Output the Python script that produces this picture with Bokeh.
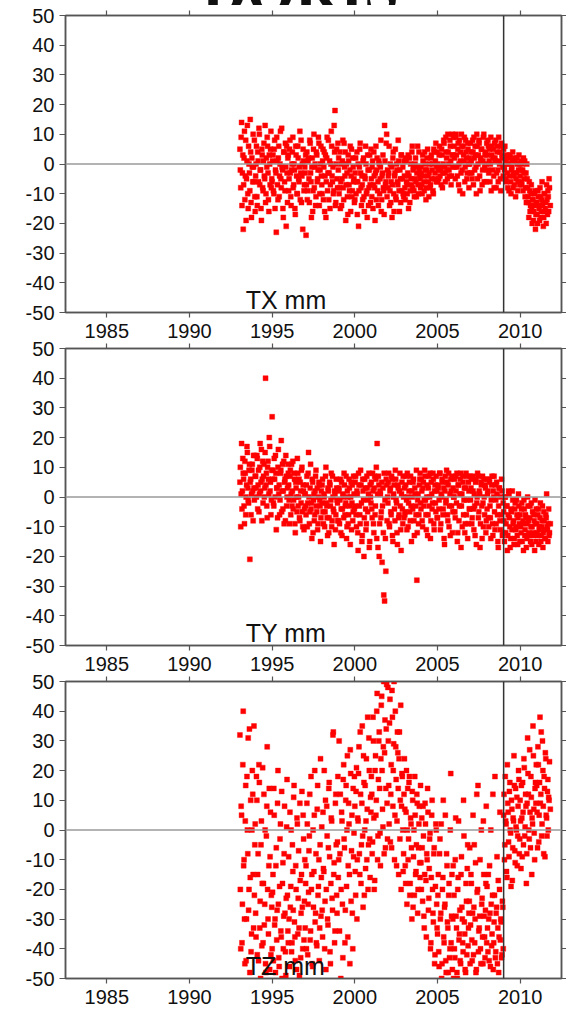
from bokeh.plotting import figure
from bokeh.layouts import column
from bokeh.models import Span, Label, Range1d, FixedTicker, LinearAxis, ColumnDataSource, Div
from bokeh.embed import file_html
from bokeh.resources import INLINE

# ---------------- data (decimal-year epochs and translations in mm) ----------------
# first set of epochs
epochs = [
    1993.05, 1993.10, 1993.15, 1993.20, 1993.25, 1993.30, 1993.35, 1993.40, 1993.45, 1993.50, 1993.55, 1993.60, 1993.65, 1993.70, 1993.75, 1993.80, 1993.85, 1993.90, 1993.95,
    1994.00, 1994.05, 1994.10, 1994.15, 1994.20, 1994.25, 1994.30, 1994.35, 1994.40, 1994.45, 1994.50, 1994.55, 1994.60, 1994.65, 1994.70, 1994.75, 1994.80, 1994.85, 1994.90, 1994.95,
    1995.00, 1995.05, 1995.10, 1995.15, 1995.20, 1995.25, 1995.30, 1995.35, 1995.40, 1995.45, 1995.50, 1995.55, 1995.60, 1995.65, 1995.70, 1995.75, 1995.80, 1995.85, 1995.90, 1995.95,
    1996.00, 1996.05, 1996.10, 1996.15, 1996.20, 1996.25, 1996.30, 1996.35, 1996.40, 1996.45, 1996.50, 1996.55, 1996.60, 1996.65, 1996.70, 1996.75, 1996.80, 1996.85, 1996.90, 1996.95,
    1997.00, 1997.05, 1997.10, 1997.15, 1997.20, 1997.25, 1997.30, 1997.35, 1997.40, 1997.45, 1997.50, 1997.55, 1997.60, 1997.65, 1997.70, 1997.75, 1997.80, 1997.85, 1997.90, 1997.95,
    1998.00, 1998.05, 1998.10, 1998.15, 1998.20, 1998.25, 1998.30, 1998.35, 1998.40, 1998.45, 1998.50, 1998.55, 1998.60, 1998.65, 1998.70, 1998.75, 1998.80, 1998.85, 1998.90, 1998.95,
    1999.00, 1999.05, 1999.10, 1999.15, 1999.20, 1999.25, 1999.30, 1999.35, 1999.40, 1999.45, 1999.50, 1999.55, 1999.60, 1999.65, 1999.70, 1999.75, 1999.80, 1999.85, 1999.90, 1999.95,
    2000.00, 2000.05, 2000.10, 2000.15, 2000.20, 2000.25, 2000.30, 2000.35, 2000.40, 2000.45, 2000.50, 2000.55, 2000.60, 2000.65, 2000.70, 2000.75, 2000.80, 2000.85, 2000.90, 2000.95,
    2001.00, 2001.05, 2001.10, 2001.15, 2001.20, 2001.25, 2001.30, 2001.35, 2001.40, 2001.45, 2001.50, 2001.55, 2001.60, 2001.65, 2001.70, 2001.75, 2001.80, 2001.85, 2001.90, 2001.95,
    2002.00, 2002.05, 2002.10, 2002.15, 2002.20, 2002.25, 2002.30, 2002.35, 2002.40, 2002.45, 2002.50, 2002.55, 2002.60, 2002.65, 2002.70, 2002.75, 2002.80, 2002.85, 2002.90, 2002.95,
    2003.00, 2003.05, 2003.10, 2003.15, 2003.20, 2003.25, 2003.30, 2003.35, 2003.40, 2003.45, 2003.50, 2003.55, 2003.60, 2003.65, 2003.70, 2003.75, 2003.80, 2003.85, 2003.90, 2003.95,
    2004.00, 2004.05, 2004.10, 2004.15, 2004.20, 2004.25, 2004.30, 2004.35, 2004.40, 2004.45, 2004.50, 2004.55, 2004.60, 2004.65, 2004.70, 2004.75, 2004.80, 2004.85, 2004.90, 2004.95,
    2005.00, 2005.05, 2005.10, 2005.15, 2005.20, 2005.25, 2005.30, 2005.35, 2005.40, 2005.45, 2005.50, 2005.55, 2005.60, 2005.65, 2005.70, 2005.75, 2005.80, 2005.85, 2005.90, 2005.95,
    2006.00, 2006.05, 2006.10, 2006.15, 2006.20, 2006.25, 2006.30, 2006.35, 2006.40, 2006.45, 2006.50, 2006.55, 2006.60, 2006.65, 2006.70, 2006.75, 2006.80, 2006.85, 2006.90, 2006.95,
    2007.00, 2007.05, 2007.10, 2007.15, 2007.20, 2007.25, 2007.30, 2007.35, 2007.40, 2007.45, 2007.50, 2007.55, 2007.60, 2007.65, 2007.70, 2007.75, 2007.80, 2007.85, 2007.90, 2007.95,
    2008.00, 2008.05, 2008.10, 2008.15, 2008.20, 2008.25, 2008.30, 2008.35, 2008.40, 2008.45, 2008.50, 2008.55, 2008.60, 2008.65, 2008.70, 2008.75, 2008.80, 2008.85, 2008.90, 2008.95,
    2009.00, 2009.05, 2009.10, 2009.15, 2009.20, 2009.25, 2009.30, 2009.35, 2009.40, 2009.45, 2009.50, 2009.55, 2009.60, 2009.65, 2009.70, 2009.75, 2009.80, 2009.85, 2009.90, 2009.95,
    2010.00, 2010.05, 2010.10, 2010.15, 2010.20, 2010.25, 2010.30, 2010.35, 2010.40, 2010.45, 2010.50, 2010.55, 2010.60, 2010.65, 2010.70, 2010.75, 2010.80, 2010.85, 2010.90, 2010.95,
    2011.00, 2011.05, 2011.10, 2011.15, 2011.20, 2011.25, 2011.30, 2011.35, 2011.40, 2011.45, 2011.50, 2011.55, 2011.60, 2011.65, 2011.70, 2011.75,
]

# second (interleaved) set of epochs
epochs_b = [
    1993.075, 1993.125, 1993.175, 1993.225, 1993.275, 1993.325, 1993.375, 1993.425, 1993.475, 1993.525, 1993.575, 1993.625, 1993.675, 1993.725, 1993.775, 1993.825, 1993.875, 1993.925, 1993.975,
    1994.025, 1994.075, 1994.125, 1994.175, 1994.225, 1994.275, 1994.325, 1994.375, 1994.425, 1994.475, 1994.525, 1994.575, 1994.625, 1994.675, 1994.725, 1994.775, 1994.825, 1994.875, 1994.925, 1994.975,
    1995.025, 1995.075, 1995.125, 1995.175, 1995.225, 1995.275, 1995.325, 1995.375, 1995.425, 1995.475, 1995.525, 1995.575, 1995.625, 1995.675, 1995.725, 1995.775, 1995.825, 1995.875, 1995.925, 1995.975,
    1996.025, 1996.075, 1996.125, 1996.175, 1996.225, 1996.275, 1996.325, 1996.375, 1996.425, 1996.475, 1996.525, 1996.575, 1996.625, 1996.675, 1996.725, 1996.775, 1996.825, 1996.875, 1996.925, 1996.975,
    1997.025, 1997.075, 1997.125, 1997.175, 1997.225, 1997.275, 1997.325, 1997.375, 1997.425, 1997.475, 1997.525, 1997.575, 1997.625, 1997.675, 1997.725, 1997.775, 1997.825, 1997.875, 1997.925, 1997.975,
    1998.025, 1998.075, 1998.125, 1998.175, 1998.225, 1998.275, 1998.325, 1998.375, 1998.425, 1998.475, 1998.525, 1998.575, 1998.625, 1998.675, 1998.725, 1998.775, 1998.825, 1998.875, 1998.925, 1998.975,
    1999.025, 1999.075, 1999.125, 1999.175, 1999.225, 1999.275, 1999.325, 1999.375, 1999.425, 1999.475, 1999.525, 1999.575, 1999.625, 1999.675, 1999.725, 1999.775, 1999.825, 1999.875, 1999.925, 1999.975,
    2000.025, 2000.075, 2000.125, 2000.175, 2000.225, 2000.275, 2000.325, 2000.375, 2000.425, 2000.475, 2000.525, 2000.575, 2000.625, 2000.675, 2000.725, 2000.775, 2000.825, 2000.875, 2000.925, 2000.975,
    2001.025, 2001.075, 2001.125, 2001.175, 2001.225, 2001.275, 2001.325, 2001.375, 2001.425, 2001.475, 2001.525, 2001.575, 2001.625, 2001.675, 2001.725, 2001.775, 2001.825, 2001.875, 2001.925, 2001.975,
    2002.025, 2002.075, 2002.125, 2002.175, 2002.225, 2002.275, 2002.325, 2002.375, 2002.425, 2002.475, 2002.525, 2002.575, 2002.625, 2002.675, 2002.725, 2002.775, 2002.825, 2002.875, 2002.925, 2002.975,
    2003.025, 2003.075, 2003.125, 2003.175, 2003.225, 2003.275, 2003.325, 2003.375, 2003.425, 2003.475, 2003.525, 2003.575, 2003.625, 2003.675, 2003.725, 2003.775, 2003.825, 2003.875, 2003.925, 2003.975,
    2004.025, 2004.075, 2004.125, 2004.175, 2004.225, 2004.275, 2004.325, 2004.375, 2004.425, 2004.475, 2004.525, 2004.575, 2004.625, 2004.675, 2004.725, 2004.775, 2004.825, 2004.875, 2004.925, 2004.975,
    2005.025, 2005.075, 2005.125, 2005.175, 2005.225, 2005.275, 2005.325, 2005.375, 2005.425, 2005.475, 2005.525, 2005.575, 2005.625, 2005.675, 2005.725, 2005.775, 2005.825, 2005.875, 2005.925, 2005.975,
    2006.025, 2006.075, 2006.125, 2006.175, 2006.225, 2006.275, 2006.325, 2006.375, 2006.425, 2006.475, 2006.525, 2006.575, 2006.625, 2006.675, 2006.725, 2006.775, 2006.825, 2006.875, 2006.925, 2006.975,
    2007.025, 2007.075, 2007.125, 2007.175, 2007.225, 2007.275, 2007.325, 2007.375, 2007.425, 2007.475, 2007.525, 2007.575, 2007.625, 2007.675, 2007.725, 2007.775, 2007.825, 2007.875, 2007.925, 2007.975,
    2008.025, 2008.075, 2008.125, 2008.175, 2008.225, 2008.275, 2008.325, 2008.375, 2008.425, 2008.475, 2008.525, 2008.575, 2008.625, 2008.675, 2008.725, 2008.775, 2008.825, 2008.875, 2008.925, 2008.975,
    2009.025, 2009.075, 2009.125, 2009.175, 2009.225, 2009.275, 2009.325, 2009.375, 2009.425, 2009.475, 2009.525, 2009.575, 2009.625, 2009.675, 2009.725, 2009.775, 2009.825, 2009.875, 2009.925, 2009.975,
    2010.025, 2010.075, 2010.125, 2010.175, 2010.225, 2010.275, 2010.325, 2010.375, 2010.425, 2010.475, 2010.525, 2010.575, 2010.625, 2010.675, 2010.725, 2010.775, 2010.825, 2010.875, 2010.925, 2010.975,
    2011.025, 2011.075, 2011.125, 2011.175, 2011.225, 2011.275, 2011.325, 2011.375, 2011.425, 2011.475, 2011.525, 2011.575, 2011.625, 2011.675, 2011.725, 2011.775, 2011.825,
]

tx = [
    5, -8, 14, -3, -22, 2, -12, 8, -5, 13, -15, 0, -9, 4, -18, -1, 10, -6, -11,
    -4, 6, -14, 1, 12, -7, -2, -19, 3, -9, 7, -5, -13, 2, 9, -3, -16, 0, 5, -8,
    -6, 3, -10, 8, -2, -23, 1, -12, 6, -4, 11, -8, -1, -15, 4, -6, 7, -21, -3, 2,
    -9, 5, -3, -14, 0, 9, -7, -2, -17, 3, -10, 6, -5, -1, -12, 8, -4, -22, 1, -7,
    -3, -24, 4, -9, 2, -13, 7, -6, -1, -16, 5, -8, 0, -11, 3, -5, 9, -14, -2, 6,
    -7, 1, -12, 4, -4, -18, 2, -9, 8, -3, -15, 0, 6, -6, -10, 13, 18, -13, 5, -8,
    -2, -10, 4, -6, -14, 1, -8, 7, -4, -19, 0, -11, 3, -7, -2, -16, 5, -9, -1, -5,
    -12, 2, -6, -17, 0, -9, 5, -3, -14, -7, 1, -11, -4, 6, -10, -18, -2, -8, 3, -13,
    -5, -1, -15, 4, -8, -3, -12, 2, -6, 1, -10, -1, -16, -4, 3, -9, 13, -7, 7, -11,
    -8, -3, -14, 0, -6, -18, 2, -10, -4, 5, -12, -2, -7, 1, -16, -5, 3, -9, -1, -11,
    -4, -12, 1, -7, -3, -15, 2, -9, -5, 4, -8, -1, -11, 0, -6, -3, 6, -10, -2, -5,
    -1, -7, 3, -4, -9, 0, -12, -2, 5, -6, -3, -8, 2, -5, 0, -10, 4, -3, 7, -1,
    -6, -2, 3, -4, -1, 5, -8, 0, 7, -3, 9, 2, -5, 4, -2, 8, 1, -4, 10, 3,
    6, -1, 9, 3, -4, 7, 0, -9, 4, 10, -2, 6, 1, -6, 8, 2, -3, 5, -8, 0,
    7, 1, -5, 4, 9, -2, 3, -10, 6, 0, 8, -4, 2, 5, -7, 1, 10, -1, 4, -6,
    3, 8, -3, 5, 0, -9, 6, 2, -4, 7, 1, -8, 4, -2, 9, 0, -5, 6, 3, -1,
    5, -2, 1, -6, 3, -8, 0, -4, 2, -10, -1, 4, -3, -7, 1, -5, 2, -9, -2, 0,
    -4, 1, -7, -2, 2, -5, -11, -3, 0, -8, -13, -6, -16, -10, -15, -12, -19, -14, -9, -17,
    -13, -20, -11, -15, -8, -18, -12, -14, -21, -10, -16, -13, -7, -17, -11, -5,
]

tx_b = [
    -2, 9, -14, 3, -7, 11, -4, -19, 1, -10, 6, -3, 15, -13, 2, -6, -1, 8, -16,
    0, -11, 4, -6, 10, -2, -15, 5, -8, 1, -4, 13, -10, -1, 6, -12, 3, -7, 11, -5,
    1, -9, 5, -15, -3, 9, -7, 2, -11, 0, -5, 12, -2, -18, 4, -9, -1, 6, -13, 3,
    -5, 8, -11, -2, 4, -8, 0, -15, 6, -4, -10, 2, -6, 11, -3, -13, 0, 5, -9, -1,
    3, -7, -12, 1, -5, 8, -3, -18, 2, -9, 10, -1, -14, 4, -6, -2, 7, -10, 0, -4,
    -10, 5, -1, -16, 3, -6, 9, -3, -12, 1, -7, 11, -4, -1, -9, 4, -14, 0, -5, 7,
    2, -8, -15, 0, -5, 8, -12, -1, 4, -7, -3, -17, 1, -9, 6, -4, -11, 2, -6, -13,
    -3, -10, 4, -6, -21, -1, 7, -8, -4, -12, 2, -16, -5, 0, -9, 3, -14, -2, -7, 5,
    -11, 1, -7, -4, -19, 6, -2, -9, -14, 0, -5, 8, -12, -3, -8, -17, 1, -6, 10, -2,
    -4, 6, -9, -13, -1, -7, 4, -16, -3, -11, 0, -6, 8, -9, -2, -13, 3, -5, -10, 1,
    -8, 2, -6, -10, 3, -4, -13, 0, -7, 6, -2, -9, -5, 2, -11, -1, -7, 4, -4, -8,
    -3, -10, 1, -6, 4, -2, -8, 2, -4, -11, 0, -7, 3, -2, -9, 5, -5, 1, -6, 4,
    0, -5, 6, -2, -7, 3, -3, 8, -1, -6, 4, -2, 10, 0, -4, 6, -7, 3, -1, 9,
    2, -5, 10, -1, 5, -7, 8, 1, -3, 6, -10, 3, 9, -1, 4, -5, 7, 0, 2, -3,
    4, -3, 8, -7, 2, 6, -1, 10, -5, 3, 7, -9, 1, 5, -2, 9, -6, 3, 0, 7,
    -2, 6, 1, -6, 9, 3, -2, 5, -8, 2, 8, -3, 6, -6, 1, 4, -9, 7, 2, -4,
    -1, 6, -5, 2, -3, 0, -9, 3, -6, -2, 1, -8, -4, 2, -11, -3, 0, -6, 3, -7,
    -2, -6, 0, -9, -3, 1, -8, -13, -5, -11, -18, -9, -14, -7, -20, -12, -16, -10, -22, -13,
    -17, -9, -14, -19, -11, -16, -6, -13, -18, -10, -15, -20, -12, -9, -16, -8, -14,
]

ty = [
    5, -10, 18, 2, 8, -3, 12, -6, 4, 15, -1, 9, -21, 6, 1, 11, -8, 3, 14,
    7, 0, 13, 4, -5, 10, 2, 16, 6, -2, 11, 3, 40, 8, -7, 12, 1, 17, 5, -1,
    27, 9, -3, 6, 14, -11, 3, 10, 1, -6, 8, 19, 2, -4, 12, 5, -8, 7, 0, 11,
    4, -9, 9, 1, -3, 12, -1, 6, -12, 3, -5, 8, 0, -7, 5, -2, 10, -10, 2, -4,
    1, -6, 7, -2, 15, -9, 3, -4, -14, 5, -1, -8, 2, 9, -5, -11, 0, 4, -3, -7,
    -2, 6, -9, 0, -5, 10, -3, -13, 2, -7, 4, -1, -10, 7, -4, -16, 1, -6, 3, -2,
    -8, 3, -1, -12, 5, -4, 0, 8, -6, -2, -14, 2, -9, 6, -3, 0, -11, 4, -5, 1,
    -3, 7, -10, 1, -18, 4, -6, 9, -2, -13, 2, -20, 6, -4, -9, 3, -1, 8, -15, 0,
    5, -7, 2, -12, 7, -3, 10, 18, -17, 4, -9, 1, -5, -22, 3, -33, -35, -14, 6, -8,
    -2, 8, -10, 3, -6, 6, -15, 1, -4, 9, -1, -12, 4, -7, 2, -3, -18, 5, -9, 0,
    3, -5, 7, -11, 0, -2, 5, -8, -3, 2, -4, 6, -13, 1, -6, -28, -1, -9, 4, 8,
    -4, 2, -10, 5, -1, 7, -6, 0, -13, 3, -3, 8, -8, 1, -2, 6, -11, 4, -5, 2,
    -7, 3, -1, 8, -9, 0, 5, -4, -14, 2, -2, 9, -6, 4, -10, 1, 6, -3, -12, 3,
    0, -5, 7, -2, -15, 4, -8, 1, 8, -3, -10, 5, -1, -12, 3, -6, 7, -9, 2, -4,
    -1, 6, -7, 2, -11, -3, 5, -16, 0, 7, -5, 1, -9, 4, -14, -2, 6, -6, 3, -8,
    -4, 2, -10, 5, -7, -1, 7, -13, 0, -5, 4, -9, 1, -15, -3, 3, -11, -6, 2, -12,
    -5, -15, 0, -9, -3, -13, 2, -7, -17, -4, -11, -1, -8, -14, -2, -10, -6, -16, 1, -9,
    -6, -12, -2, -9, -18, -4, -11, -7, -14, 0, -8, -13, -3, -10, -16, -5, -12, -8, -1, -15,
    -9, -13, -4, -11, -7, -15, -10, -3, -12, -8, -14, -6, 1, -11, -9, -13,
]

ty_b = [
    10, 1, -4, 13, 6, -9, 8, 0, 17, 3, -2, 11, 5, -6, 9, 2, 14, -1, 7,
    3, 14, -4, 9, 1, 18, 5, -8, 12, 7, 0, 15, 4, -3, 10, 6, 20, 2, -6, 9,
    6, -2, 13, 0, 8, 3, -7, 16, 4, -1, 9, -5, 11, 2, -9, 6, 14, -3, 3, 8,
    -1, 7, -6, 11, 2, -4, 8, -9, 5, 0, 13, -3, 6, -8, 2, 9, -5, 4, -11, 1,
    -3, 4, -10, 8, 0, -5, 11, -2, 6, -12, 1, -6, 7, -3, 3, -9, 5, -1, -15, 2,
    4, -5, 1, -10, 7, -2, -7, 3, -12, 5, -3, 8, -8, 0, -5, 2, -11, 6, -1, -8,
    2, -9, 6, -4, -13, 1, -7, 4, -3, 7, -10, 0, -6, 3, -16, 5, -2, -8, 7, -4,
    5, -6, 2, -12, 8, -3, -9, 4, -15, 6, -1, -7, 3, -11, 7, -5, 1, -17, 4, -2,
    -4, 8, -9, 3, -6, 6, -14, 1, 7, -20, 2, -7, 5, -3, -12, 8, -1, -25, 4, 0,
    5, -9, 2, -5, 7, -13, 0, 4, -8, 6, -2, -16, 3, -6, 8, -11, 1, -4, 7, -7,
    -6, 4, -1, 8, -10, 2, -5, 7, -15, 0, 5, -8, 3, -3, 9, -12, 1, -6, 6, -2,
    6, -8, 3, -3, 9, -1, -11, 4, -6, 7, 0, -14, 5, -4, 8, -9, 2, -2, 7, -7,
    4, -4, 8, -11, 1, 6, -6, 3, -16, 7, -1, 5, -8, 8, -3, -13, 2, 7, -5, 0,
    6, -7, 2, 8, -12, 4, -3, 6, -17, 1, 7, -6, 3, -9, 8, -1, -14, 5, -4, 7,
    3, -9, 7, -4, 1, -13, 6, -2, 8, -7, 2, -17, 5, -3, 7, -10, 0, 4, -12, 6,
    1, -7, 6, -3, -14, 4, -9, 2, 7, -11, -1, 5, -6, -17, 3, -8, 0, 6, -13, -2,
    -8, 0, -12, -3, -18, -6, 1, -10, -14, -5, 2, -9, -16, -4, -11, -1, -13, -7, -3, -15,
    -10, -4, -15, -8, -1, -13, -6, -17, -9, -3, -12, -7, -15, -2, -10, -13, -6, -18, -9, -4,
    -12, -6, -16, -10, -2, -13, -8, -17, -5, -11, -14, -7, -10, -15, -4, -12, -9,
]

tz = [
    32, -40, 5, -25, 40, -10, -45, 15, -30, 0, 31, -20, -48, 10, -35, 20, -15, 35, -5,
    -28, 18, -42, -8, 22, -33, -50, 3, -18, -38, 12, -25, -45, -2, 28, -30, -12, -47, 6, -22,
    -40, -15, 14, -32, -48, -6, -27, 20, -43, -19, 2, -36, -50, -11, -29, 8, -41, -23, 17, -34,
    -9, -46, -26, 0, -38, -14, 11, -31, -44, -20, 4, -35, -7, -49, -17, -28, 13, -40, -3, -24,
    -33, -12, 9, -42, -21, -2, -37, 18, -15, -46, -26, 5, -31, -8, -39, 15, -19, -44, -5, -29,
    1, -36, -13, 20, -24, -47, 8, -30, -6, 16, -41, -18, 3, -27, 33, -11, -34, 12, -22, -4,
    -16, 30, -8, -50, 6, -25, 17, -3, -38, 10, -19, 25, -12, 2, -45, 19, -7, -28, 14, -1,
    8, -22, 21, -10, 3, 28, -15, 12, -5, 35, -26, 16, 0, -13, 24, 7, -20, 31, -3, 11,
    18, -8, 38, 4, -17, 25, 10, 46, -2, 30, 14, -12, 42, 20, 1, 50, 26, -6, 34, 9,
    48, 15, 36, -4, 22, 47, 8, 29, -10, 40, 17, 3, 26, -15, 33, 10, -20, 19, 0, -8,
    24, -12, 6, -25, 14, -3, 18, -18, 2, -30, 10, -9, -22, 5, -14, 12, -28, -6, 8, -16,
    -11, 4, -24, -2, -33, 9, -17, -8, 14, -27, -13, -1, -38, 5, -20, -31, -6, -42, 2, -25,
    -35, -15, -46, -3, -28, -50, -20, 10, -38, -25, -44, -8, -31, -48, -18, -40, 19, -29, -47, -12,
    -22, -43, 4, -33, -50, -16, -37, -27, -45, -9, -30, -41, -2, -35, -48, -24, -13, -39, -28, -6,
    -32, -18, -44, 5, -26, -38, -11, -47, -21, 15, -34, -29, -40, 0, -23, -45, -15, -36, -27, 8,
    -19, -41, -30, -12, -46, -25, -35, 12, -38, -22, -43, -28, -9, -33, -48, -20, -37, -31, -42, -26,
    5, -10, 18, 2, -16, 9, -4, 13, 0, -19, 7, -6, 3, 15, -11, 1, 11, -2, 20, -8,
    10, -13, 4, 16, -5, 21, 1, 8, -8, 31, 12, -3, 6, 18, -15, 2, 25, -1, 14, 9,
    15, -6, 22, 5, 38, 12, -2, 30, 8, 18, -9, 24, 4, 13, 0, 10,
]

tz_b = [
    -20, 8, -38, 22, -12, -30, 3, -44, 18, -8, -27, 34, -16, -41, 0, 12, -33, -22, 2,
    -36, 10, -15, -44, 16, -24, -5, -39, 21, -18, -32, 0, -48, 8, -20, -35, 14, -9, -42, -26,
    -21, -44, 5, -30, -12, -37, 9, -25, -46, -3, -34, 13, -18, -40, -8, -28, -49, 1, -22, -38,
    -30, 6, -19, -41, -5, -27, 15, -36, -12, -47, 2, -23, -33, 9, -43, -15, -26, 5, -37, -10,
    -18, -40, 2, -25, -7, 12, -34, -20, -45, 0, -14, 20, -28, -38, 7, -22, -10, -33, 24, -16,
    -27, 6, -14, -40, 10, -20, -2, -32, 14, -9, -45, 4, -23, 32, -15, -38, 9, -5, -28, 18,
    -10, -34, 12, -20, 3, -43, 22, -6, -27, 15, 0, -36, 9, -15, 27, -24, 5, -40, -9, 18,
    -14, 13, -30, 4, 19, -8, 33, -18, 9, -2, 25, -22, 15, 3, -10, 38, -5, 20, -16, 6,
    12, -4, 30, -20, 20, 5, 40, -10, 17, 33, -1, 24, 45, 7, 28, -8, 37, 14, 49, -3,
    30, 2, 44, 12, -6, 38, 20, 50, 5, 28, -12, 33, 14, 24, -3, 42, 8, 18, -14, 12,
    7, -18, 20, 0, -10, 16, -22, 4, -6, 13, -26, 0, 18, -15, -5, 9, -20, 2, -11, 15,
    -20, -6, 8, -29, -15, 2, -36, -10, 6, -23, -3, -40, -16, 10, -28, -8, -45, -19, 0, -33,
    -22, -41, -8, -30, 2, -45, -16, -36, -26, 5, -48, -12, -33, -22, -43, 0, -38, -15, -30, -50,
    -40, -10, -29, -48, -20, 3, -35, -44, -15, -26, -38, 10, -31, -47, -18, -42, -5, -33, -24, -45,
    -15, -37, -28, -42, -5, -30, -48, 12, -20, -41, -33, -10, -45, -25, -36, 3, -29, -43, -18, -38,
    -33, -15, -44, -28, 0, -39, -22, -47, -31, 18, -41, -26, -45, -17, -36, 6, -30, -43, -24, -40,
    12, -5, 3, -14, 22, 6, -9, 16, -1, 10, -17, 4, 25, -7, 14, 0, -12, 8, 17, -3,
    3, 15, -9, 6, 24, -2, 12, -18, 9, 19, 0, 27, -6, 11, 4, 35, 7, -10, 16, 22,
    6, 28, -4, 16, 9, 33, 2, 20, -8, 14, 26, 5, -2, 17, 11, 23, 7,
]

x_ticks = [1985, 1990, 1995, 2000, 2005, 2010]
y_ticks = [-50, -40, -30, -20, -10, 0, 10, 20, 30, 40, 50]
panel_labels = ["TX mm", "TY mm", "TZ mm"]
title_text = "DORIS"
epoch_marker = 2009.0

FONT = "Liberation Sans"
AX_COL = "#555555"


def style_axis(ax, show_labels, tick_out):
    ax.axis_line_color = AX_COL
    ax.axis_line_width = 1.5
    ax.major_tick_line_color = AX_COL
    ax.major_tick_line_width = 1.2
    ax.major_tick_out = tick_out
    ax.major_tick_in = 0
    ax.minor_tick_out = 0
    ax.minor_tick_in = 0
    ax.major_label_text_font = FONT
    if show_labels:
        ax.major_label_text_font_size = "20px"
        ax.major_label_text_color = "#111111"
    else:
        ax.major_label_text_font_size = "0px"
        ax.major_label_text_color = None
        ax.major_label_standoff = 0


def pair(t, v):
    n = min(len(t), len(v))
    return list(t[:n]), list(v[:n])


def make_panel(values, values_b, label, top_border, overlap=0):
    t1, v1 = pair(epochs, values)
    t2, v2 = pair(epochs_b, values_b)
    src = ColumnDataSource(dict(t=t1 + t2, v=v1 + v2))
    p = figure(frame_width=496, frame_height=297,
               x_range=Range1d(1982.5, 2012.5), y_range=Range1d(-50, 50),
               output_backend="svg", toolbar_location=None,
               min_border_left=65, min_border_right=5,
               min_border_top=top_border, min_border_bottom=30)
    p.margin = (-overlap, 0, 0, 0)
    p.border_fill_alpha = 0
    p.xgrid.visible = False
    p.ygrid.visible = False
    p.outline_line_color = AX_COL
    p.outline_line_width = 1.5
    p.background_fill_color = "white"

    p.scatter(x="t", y="v", source=src, marker="square", size=5,
              fill_color="#ff0000", line_color="#ff0000", line_width=0.4)

    # bottom / left axes with labels
    p.xaxis.ticker = FixedTicker(ticks=x_ticks)
    p.yaxis.ticker = FixedTicker(ticks=y_ticks)
    p.yaxis.major_label_overrides = {v: str(v) for v in y_ticks}
    p.xaxis.major_label_overrides = {v: str(v) for v in x_ticks}
    style_axis(p.xaxis[0], True, 5)
    style_axis(p.yaxis[0], True, 6)
    p.xaxis.major_label_standoff = 6
    p.yaxis.major_label_standoff = 5

    # top / right axes: ticks only
    top = LinearAxis(ticker=FixedTicker(ticks=x_ticks))
    style_axis(top, False, 5)
    p.add_layout(top, "above")
    right = LinearAxis(ticker=FixedTicker(ticks=y_ticks))
    style_axis(right, False, 5)
    p.add_layout(right, "right")

    p.add_layout(Span(location=0, dimension="width", line_color="#9a9a9a", line_width=1.3))
    p.add_layout(Span(location=epoch_marker, dimension="height", line_color="#333333", line_width=1.5))

    p.add_layout(Label(x=1993.4, y=-45.8, text=label, text_font=FONT,
                       text_font_size="25px", text_color="#111111",
                       text_baseline="alphabetic", text_align="left"))
    return p


# title: only the bottom of the big serif word shows at the top of the page
title_div = Div(
    text=('<div style="font-family:\'Liberation Serif\',serif;font-weight:bold;'
          'font-size:62px;line-height:62px;white-space:nowrap;margin-top:-52px;'
          'padding-left:202px;color:#111111;">' + title_text + '</div>'),
    width=566, height=5, margin=(0, 0, 0, 0), styles={"overflow": "hidden"})

p1 = make_panel(tx, tx_b, panel_labels[0], 10)
p2 = make_panel(ty, ty_b, panel_labels[1], 16, overlap=10)
p3 = make_panel(tz, tz_b, panel_labels[2], 16, overlap=10)

layout = column(title_div, p1, p2, p3, spacing=0)
open("out.html", "w").write(file_html(layout, INLINE))
